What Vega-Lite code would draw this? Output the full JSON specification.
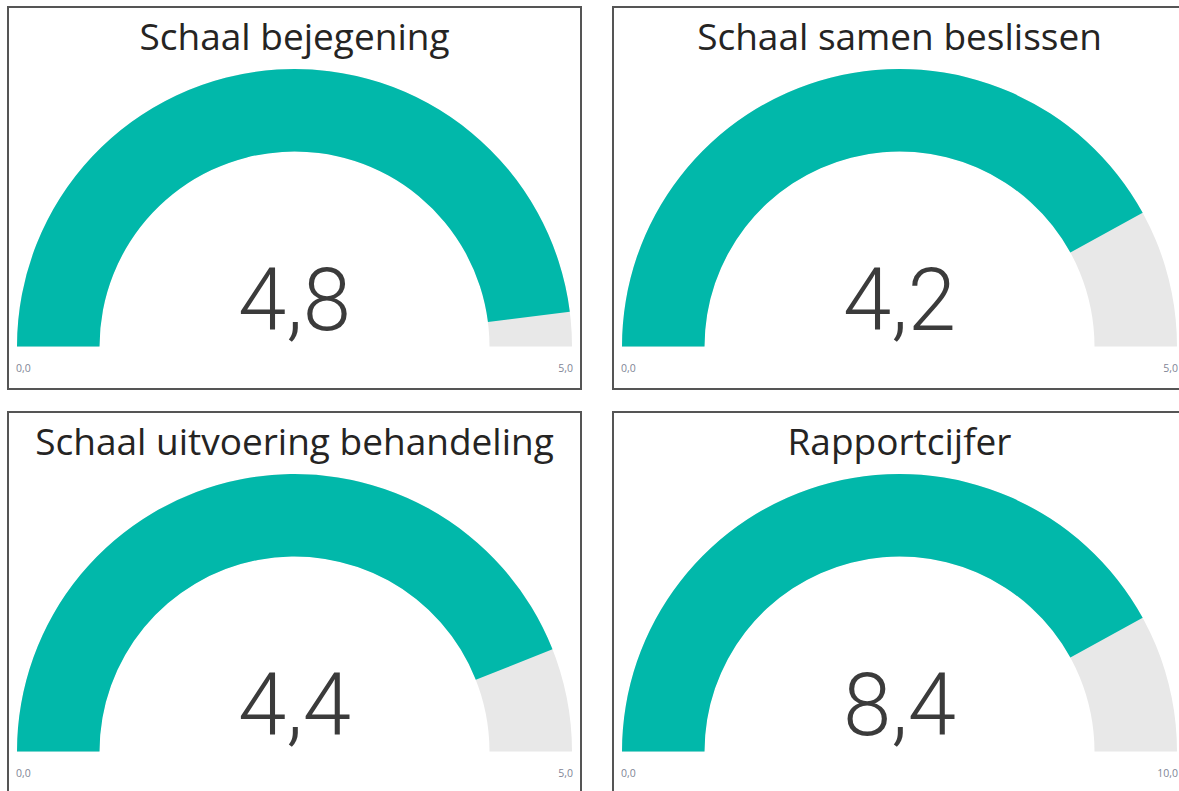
{
  "$schema": "https://vega.github.io/schema/vega-lite/v6.json",
  "padding": {"left": 7, "top": 6, "right": 0, "bottom": 0},
  "background": "#ffffff",
  "data": {"values": [
    {"panel": "Schaal bejegening", "value": 4.8, "min": 0, "max": 5},
    {"panel": "Schaal samen beslissen", "value": 4.2, "min": 0, "max": 5},
    {"panel": "Schaal uitvoering behandeling", "value": 4.4, "min": 0, "max": 5},
    {"panel": "Rapportcijfer", "value": 8.4, "min": 0, "max": 10}
  ]},
  "config": {
    "locale": {"number": {"decimal": ",", "thousands": ".", "grouping": [3], "currency": ["€", ""]}},
    "view": {"stroke": "#555555", "strokeWidth": 2}
  },
  "vconcat": [
    {"hconcat": [
      {
        "width": 573, "height": 382,
        "transform": [{"filter": "datum.panel === 'Schaal bejegening'"}],
        "layer": [
          {"mark": {"type": "arc", "radius": 277.5, "radius2": 195, "color": "#E8E8E8"},
           "encoding": {"theta": {"field": "min", "type": "quantitative", "stack": null, "scale": {"domain": [0, 5], "range": [-1.5708, 1.5708]}}, "theta2": {"field": "max"},
             "y": {"datum": 0, "type": "quantitative", "scale": {"domain": [0, 1], "padding": 42.5, "nice": false, "zero": false}, "axis": null}}},
          {"mark": {"type": "arc", "radius": 277.5, "radius2": 195, "color": "#01B8AA"},
           "encoding": {"theta": {"field": "min", "type": "quantitative", "stack": null}, "theta2": {"field": "value"},
             "y": {"datum": 0, "type": "quantitative"}}},
          {"mark": {"type": "text", "font": "Roboto", "fontWeight": 300, "fontSize": 87, "color": "#3b3b3b", "baseline": "alphabetic", "align": "center", "dy": -17},
           "encoding": {"text": {"field": "value", "type": "quantitative", "format": ".1f"}, "y": {"datum": 0, "type": "quantitative"}}},
          {"mark": {"type": "text", "font": "Open Sans", "fontSize": 37, "color": "#252423", "baseline": "alphabetic", "align": "center", "dy": 0},
           "encoding": {"text": {"field": "panel"}, "y": {"datum": 1, "type": "quantitative"}}},
          {"mark": {"type": "text", "font": "Open Sans", "fontSize": 10.5, "color": "#7f8596", "baseline": "alphabetic", "align": "left", "dy": 25.5},
           "encoding": {"text": {"field": "min", "type": "quantitative", "format": ".1f"},
             "x": {"field": "min", "type": "quantitative", "scale": {"domain": [0, 5], "padding": 8, "nice": false, "zero": false}, "axis": null},
             "y": {"datum": 0, "type": "quantitative"}}},
          {"mark": {"type": "text", "font": "Open Sans", "fontSize": 10.5, "color": "#7f8596", "baseline": "alphabetic", "align": "right", "dy": 25.5},
           "encoding": {"text": {"field": "max", "type": "quantitative", "format": ".1f"},
             "x": {"field": "max", "type": "quantitative"},
             "y": {"datum": 0, "type": "quantitative"}}}
        ]
      },
      {
        "width": 573, "height": 382,
        "transform": [{"filter": "datum.panel === 'Schaal samen beslissen'"}],
        "layer": [
          {"mark": {"type": "arc", "radius": 277.5, "radius2": 195, "color": "#E8E8E8"},
           "encoding": {"theta": {"field": "min", "type": "quantitative", "stack": null, "scale": {"domain": [0, 5], "range": [-1.5708, 1.5708]}}, "theta2": {"field": "max"},
             "y": {"datum": 0, "type": "quantitative", "scale": {"domain": [0, 1], "padding": 42.5, "nice": false, "zero": false}, "axis": null}}},
          {"mark": {"type": "arc", "radius": 277.5, "radius2": 195, "color": "#01B8AA"},
           "encoding": {"theta": {"field": "min", "type": "quantitative", "stack": null}, "theta2": {"field": "value"},
             "y": {"datum": 0, "type": "quantitative"}}},
          {"mark": {"type": "text", "font": "Roboto", "fontWeight": 300, "fontSize": 87, "color": "#3b3b3b", "baseline": "alphabetic", "align": "center", "dy": -17},
           "encoding": {"text": {"field": "value", "type": "quantitative", "format": ".1f"}, "y": {"datum": 0, "type": "quantitative"}}},
          {"mark": {"type": "text", "font": "Open Sans", "fontSize": 37, "color": "#252423", "baseline": "alphabetic", "align": "center", "dy": 0},
           "encoding": {"text": {"field": "panel"}, "y": {"datum": 1, "type": "quantitative"}}},
          {"mark": {"type": "text", "font": "Open Sans", "fontSize": 10.5, "color": "#7f8596", "baseline": "alphabetic", "align": "left", "dy": 25.5},
           "encoding": {"text": {"field": "min", "type": "quantitative", "format": ".1f"},
             "x": {"field": "min", "type": "quantitative", "scale": {"domain": [0, 5], "padding": 8, "nice": false, "zero": false}, "axis": null},
             "y": {"datum": 0, "type": "quantitative"}}},
          {"mark": {"type": "text", "font": "Open Sans", "fontSize": 10.5, "color": "#7f8596", "baseline": "alphabetic", "align": "right", "dy": 25.5},
           "encoding": {"text": {"field": "max", "type": "quantitative", "format": ".1f"},
             "x": {"field": "max", "type": "quantitative"},
             "y": {"datum": 0, "type": "quantitative"}}}
        ]
      }
    ], "spacing": 30},
    {"hconcat": [
      {
        "width": 573, "height": 382,
        "transform": [{"filter": "datum.panel === 'Schaal uitvoering behandeling'"}],
        "layer": [
          {"mark": {"type": "arc", "radius": 277.5, "radius2": 195, "color": "#E8E8E8"},
           "encoding": {"theta": {"field": "min", "type": "quantitative", "stack": null, "scale": {"domain": [0, 5], "range": [-1.5708, 1.5708]}}, "theta2": {"field": "max"},
             "y": {"datum": 0, "type": "quantitative", "scale": {"domain": [0, 1], "padding": 42.5, "nice": false, "zero": false}, "axis": null}}},
          {"mark": {"type": "arc", "radius": 277.5, "radius2": 195, "color": "#01B8AA"},
           "encoding": {"theta": {"field": "min", "type": "quantitative", "stack": null}, "theta2": {"field": "value"},
             "y": {"datum": 0, "type": "quantitative"}}},
          {"mark": {"type": "text", "font": "Roboto", "fontWeight": 300, "fontSize": 87, "color": "#3b3b3b", "baseline": "alphabetic", "align": "center", "dy": -17},
           "encoding": {"text": {"field": "value", "type": "quantitative", "format": ".1f"}, "y": {"datum": 0, "type": "quantitative"}}},
          {"mark": {"type": "text", "font": "Open Sans", "fontSize": 37, "color": "#252423", "baseline": "alphabetic", "align": "center", "dy": 0},
           "encoding": {"text": {"field": "panel"}, "y": {"datum": 1, "type": "quantitative"}}},
          {"mark": {"type": "text", "font": "Open Sans", "fontSize": 10.5, "color": "#7f8596", "baseline": "alphabetic", "align": "left", "dy": 25.5},
           "encoding": {"text": {"field": "min", "type": "quantitative", "format": ".1f"},
             "x": {"field": "min", "type": "quantitative", "scale": {"domain": [0, 5], "padding": 8, "nice": false, "zero": false}, "axis": null},
             "y": {"datum": 0, "type": "quantitative"}}},
          {"mark": {"type": "text", "font": "Open Sans", "fontSize": 10.5, "color": "#7f8596", "baseline": "alphabetic", "align": "right", "dy": 25.5},
           "encoding": {"text": {"field": "max", "type": "quantitative", "format": ".1f"},
             "x": {"field": "max", "type": "quantitative"},
             "y": {"datum": 0, "type": "quantitative"}}}
        ]
      },
      {
        "width": 573, "height": 382,
        "transform": [{"filter": "datum.panel === 'Rapportcijfer'"}],
        "layer": [
          {"mark": {"type": "arc", "radius": 277.5, "radius2": 195, "color": "#E8E8E8"},
           "encoding": {"theta": {"field": "min", "type": "quantitative", "stack": null, "scale": {"domain": [0, 10], "range": [-1.5708, 1.5708]}}, "theta2": {"field": "max"},
             "y": {"datum": 0, "type": "quantitative", "scale": {"domain": [0, 1], "padding": 42.5, "nice": false, "zero": false}, "axis": null}}},
          {"mark": {"type": "arc", "radius": 277.5, "radius2": 195, "color": "#01B8AA"},
           "encoding": {"theta": {"field": "min", "type": "quantitative", "stack": null}, "theta2": {"field": "value"},
             "y": {"datum": 0, "type": "quantitative"}}},
          {"mark": {"type": "text", "font": "Roboto", "fontWeight": 300, "fontSize": 87, "color": "#3b3b3b", "baseline": "alphabetic", "align": "center", "dy": -17},
           "encoding": {"text": {"field": "value", "type": "quantitative", "format": ".1f"}, "y": {"datum": 0, "type": "quantitative"}}},
          {"mark": {"type": "text", "font": "Open Sans", "fontSize": 37, "color": "#252423", "baseline": "alphabetic", "align": "center", "dy": 0},
           "encoding": {"text": {"field": "panel"}, "y": {"datum": 1, "type": "quantitative"}}},
          {"mark": {"type": "text", "font": "Open Sans", "fontSize": 10.5, "color": "#7f8596", "baseline": "alphabetic", "align": "left", "dy": 25.5},
           "encoding": {"text": {"field": "min", "type": "quantitative", "format": ".1f"},
             "x": {"field": "min", "type": "quantitative", "scale": {"domain": [0, 10], "padding": 8, "nice": false, "zero": false}, "axis": null},
             "y": {"datum": 0, "type": "quantitative"}}},
          {"mark": {"type": "text", "font": "Open Sans", "fontSize": 10.5, "color": "#7f8596", "baseline": "alphabetic", "align": "right", "dy": 25.5},
           "encoding": {"text": {"field": "max", "type": "quantitative", "format": ".1f"},
             "x": {"field": "max", "type": "quantitative"},
             "y": {"datum": 0, "type": "quantitative"}}}
        ]
      }
    ], "spacing": 30}
  ],
  "spacing": 21
}
